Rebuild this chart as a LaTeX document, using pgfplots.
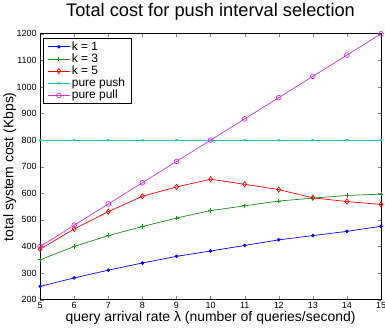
\documentclass[border=0pt]{standalone}
\usepackage{pgfplots}
\pgfplotsset{compat=1.18}
\usepackage{fontspec}
\setmainfont{Liberation Sans}
\definecolor{mgreen}{rgb}{0.1,0.55,0.1}
\definecolor{mcyan}{rgb}{0.1,0.78,0.78}
\definecolor{mmag}{rgb}{0.8,0.2,0.85}
\begin{document}
\begin{tikzpicture}
\begin{axis}[
  scale only axis, width=341bp, height=266bp,
  xmin=5, xmax=15, ymin=200, ymax=1200,
  xtick={5,...,15}, ytick={200,300,...,1200},
  tick align=inside, tick pos=both,
  major tick length=3.5pt,
  axis line style={line width=1pt},
  /pgf/number format/assume math mode=true,
  /pgf/number format/set thousands separator={},
  tick label style={font=\fontsize{9}{9}\selectfont},
  yticklabel style={xshift=0pt},
  xticklabel style={yshift=1pt},
  xlabel={query arrival rate λ (number of queries/second)},
  ylabel={total system cost (Kbps)},
  label style={font=\fontsize{14}{14}\selectfont},
  xlabel shift=-4.5pt, ylabel shift=-6.5pt,
  title={Total cost for push interval selection},
  title style={font=\fontsize{18.3}{19}\selectfont, yshift=4pt},
  legend style={font=\fontsize{12}{12.5}\selectfont, draw=black, line width=1pt, inner xsep=4pt, inner ysep=1.5pt, row sep=-2pt, at={(0.009,0.985)}, anchor=north west},
  legend cell align=left,
  legend image code/.code={\draw[mark repeat=2,mark phase=2] plot coordinates {(0cm,0cm) (0.38cm,0cm) (0.76cm,0cm)};},
  every axis plot/.append style={line width=0.7pt},
]
\addplot[blue, mark=*, mark size=1.4pt] coordinates {(5,250)(6,282)(7,311)(8,338)(9,363)(10,383)(11,404)(12,425)(13,441)(14,457)(15,476)};
\addplot[mgreen, mark=+, mark size=2.2pt] coordinates {(5,350)(6,400)(7,441)(8,475)(9,507)(10,535)(11,553)(12,571)(13,582)(14,592)(15,597)};
\addplot[red, mark=diamond, mark size=2.6pt] coordinates {(5,390)(6,466)(7,531)(8,589)(9,624)(10,653)(11,634)(12,614)(13,583)(14,569)(15,558)};
\addplot[mcyan, mark=x, mark size=1.6pt] coordinates {(5,800)(6,800)(7,800)(8,800)(9,800)(10,800)(11,800)(12,800)(13,800)(14,800)(15,800)};
\addplot[mmag, mark=o, mark size=2.4pt] coordinates {(5,400)(6,480)(7,560)(8,640)(9,720)(10,800)(11,880)(12,960)(13,1040)(14,1120)(15,1200)};
\legend{k = 1, k = 3, k = 5, pure push, pure pull}
\end{axis}
\coordinate (R) at ([xshift=4bp]current axis.north east);
\pgfresetboundingbox
\path[use as bounding box] (current axis.outer south west) rectangle (current axis.outer north east -| R);
\end{tikzpicture}
\end{document}
